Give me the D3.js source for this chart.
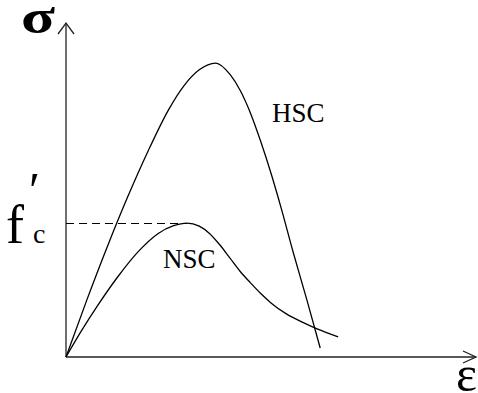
<!DOCTYPE html>
<meta charset="utf-8">
<style>
  body { margin: 0; background: #fff; }
  text { font-family: "Liberation Serif", "DejaVu Serif", serif; fill: #000; }
  .curve { fill: none; stroke: #000; stroke-width: 1.3; }
  .axis { stroke: #222; stroke-width: 1.3; fill: none; }
</style>
<svg id="chart" width="478" height="393"></svg>
<script src="https://cdnjs.cloudflare.com/ajax/libs/d3/7.8.5/d3.min.js"></script>
<script>
// strain (per mille) and stress (MPa)
var hscStrain = [0, 0.4, 0.8, 1.2, 1.6, 2.0, 2.3, 2.6, 2.92, 3.2, 3.4, 3.6, 3.8, 4.0, 4.2, 4.43, 4.7, 4.96];
var hscStress = [0, 16.8, 32.8, 47.8, 61.6, 74.0, 81.2, 86.0, 88.0, 84.6, 79.8, 73.0, 64.5, 55.0, 44.5, 31.5, 17.1, 2.7];

var nscStrain = [0, 0.3, 0.6, 1.0, 1.4, 1.8, 2.1, 2.36, 2.6, 2.8, 3.0, 3.2, 3.4, 3.6, 3.8, 4.0, 4.3, 4.6, 4.9, 5.31];
var nscStress = [0, 7.8, 15.0, 23.8, 31.4, 37.0, 39.3, 40.1, 39.2, 37.0, 33.6, 29.6, 25.6, 22.2, 19.0, 16.2, 12.9, 10.5, 8.4, 6.0];

var fcStress = 40.1;   // f'c = NSC peak
var fcStrain = 2.36;

var svg = d3.select("#chart");

var x = d3.scaleLinear().domain([0, 8]).range([66, 476]);
var y = d3.scaleLinear().domain([0, 100]).range([357, 23]);

function pts(xs, ys) {
  return xs.map(function(d, i) { return [d, ys[i]]; });
}

var line = d3.line()
  .x(function(d) { return x(d[0]); })
  .y(function(d) { return y(d[1]); })
  .curve(d3.curveMonotoneX);

// axes with open arrow heads
var x0 = x(0), y0 = y(0), xEnd = x.range()[1], yEnd = y.range()[1];
svg.append("path").attr("class", "axis")
  .attr("d", "M" + x0 + "," + y0 + "V" + yEnd);
svg.append("path").attr("class", "axis")
  .attr("d", "M" + (x0 - 8) + "," + (yEnd + 11) + "L" + x0 + "," + yEnd + "L" + (x0 + 8) + "," + (yEnd + 11));
svg.append("path").attr("class", "axis")
  .attr("d", "M" + x0 + "," + y0 + "H" + xEnd);
svg.append("path").attr("class", "axis")
  .attr("d", "M" + (xEnd - 13) + "," + (y0 - 6) + "L" + xEnd + "," + y0 + "L" + (xEnd - 13) + "," + (y0 + 6));

// dashed f'c line
var yFc = Math.round(y(fcStress)) + 0.5;
svg.append("line")
  .attr("x1", x(0)).attr("x2", x(fcStrain))
  .attr("y1", yFc).attr("y2", yFc)
  .attr("stroke", "#000").attr("stroke-width", 1)
  .attr("stroke-dasharray", "8,5");

svg.append("path").attr("class", "curve").attr("d", line(pts(hscStrain, hscStress)));
svg.append("path").attr("class", "curve").attr("d", line(pts(nscStrain, nscStress)));

// labels
svg.append("text").attr("x", 21).attr("y", 33).style("font-size", "48px").style("font-weight", "bold")
  .attr("textLength", 34).attr("lengthAdjust", "spacingAndGlyphs").text("σ");
svg.append("text").attr("x", 456).attr("y", 391).style("font-size", "50px").text("ε");

var fc = svg.append("text").attr("x", 6).attr("y", 243).style("font-size", "54px");
fc.append("tspan").text("f");
fc.append("tspan").attr("x", 29).attr("y", 207).style("font-size", "50px").text("′");
fc.append("tspan").attr("x", 33).attr("y", 243).style("font-size", "28px").text("c");

svg.append("text").attr("x", 272).attr("y", 122).style("font-size", "27px").text("HSC");
svg.append("text").attr("x", 163).attr("y", 268).style("font-size", "27px").text("NSC");
</script>
